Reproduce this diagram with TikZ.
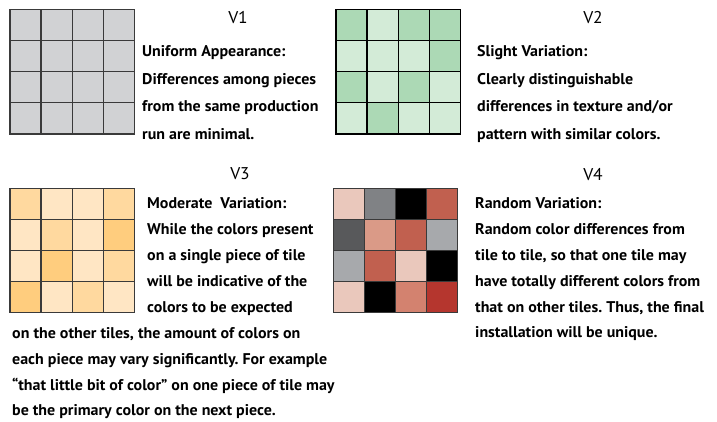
\documentclass[tikz,border=0pt]{standalone}
\usepackage{fontspec}
\setmainfont{PT Sans}[FakeStretch=1.03]
\frenchspacing
\definecolor{gA}{HTML}{D1D2D4}
\definecolor{gline}{HTML}{3A3A3A}
\definecolor{grD}{HTML}{ACD9B5}
\definecolor{grL}{HTML}{D3EBD7}
\definecolor{oL}{HTML}{FFE6C4}
\definecolor{oM}{HTML}{FFD99F}
\definecolor{oD}{HTML}{FFCD7E}
\definecolor{rPk}{HTML}{EAC8BC}
\definecolor{rGy}{HTML}{808285}
\definecolor{rBk}{HTML}{000000}
\definecolor{rRd}{HTML}{C1604F}
\definecolor{rDg}{HTML}{58595B}
\definecolor{rSa}{HTML}{DA9A87}
\definecolor{rLg}{HTML}{A7A9AC}
\definecolor{rS2}{HTML}{D3826F}
\definecolor{rBr}{HTML}{B5362E}
\newcommand\tilegrid[5]{%
  \foreach \c [count=\i from 0] in {#5} {%
    \pgfmathsetmacro\tcol{mod(\i,4)}%
    \pgfmathsetmacro\trow{int(\i/4)}%
    \filldraw[fill=\c, draw=#3, line width=#4] ({#1+\tcol*31.1},{#2+\trow*31.1}) rectangle ++(31.1,31.1);
  }%
}
\tikzset{
  txt/.style={anchor=base west, inner sep=0pt, font=\fontsize{15.5}{15.5}\selectfont\bfseries},
  vlab/.style={anchor=base, inner sep=0pt, font=\fontsize{17}{17}\selectfont}
}
\begin{document}
\begin{tikzpicture}[x=1pt,y=-1pt]
\useasboundingbox[fill=white] (0,0) rectangle (717,421);
% grids
\tilegrid{10}{9.5}{gline}{1.3pt}{gA,gA,gA,gA,gA,gA,gA,gA,gA,gA,gA,gA,gA,gA,gA,gA}
\tilegrid{336}{9.5}{black}{1.3pt}{grD,grL,grD,grD,grL,grL,grL,grD,grD,grL,grD,grL,grL,grD,grL,grL}
\tilegrid{10}{188.3}{gline}{1.3pt}{oM,oL,oL,oM,oL,oM,oL,oD,oL,oD,oL,oM,oD,oL,oM,oL}
\tilegrid{333.3}{188.3}{gline}{1pt}{rPk,rGy,rBk,rRd,rDg,rSa,rRd,rLg,rLg,rRd,rPk,rBk,rPk,rBk,rS2,rBr}
% V1
\node[vlab] (t1) at (238,23) {V1};
\node[txt] (a1) at (142,56) {Uniform Appearance:};
\node[txt] (a2) at (142,84) {Differences among pieces};
\node[txt] (a3) at (142,111.5) {from the same production};
\node[txt] (a4) at (142,139) {run are minimal.};
% V2
\node[vlab] (t2) at (593,23) {V2};
\node[txt] (b1) at (477,56) {Slight Variation:};
\node[txt] (b2) at (477,84) {Clearly distinguishable};
\node[txt] (b3) at (477,111.5) {differences in texture and/or};
\node[txt] (b4) at (477,139) {pattern with similar colors.};
% V3
\node[vlab] (t3) at (240,179) {V3};
\node[txt] (c1) at (147,208) {Moderate\ \ Variation:};
\node[txt] (c2) at (147,234) {While the colors present};
\node[txt] (c3) at (147,260) {on a single piece of tile};
\node[txt] (c4) at (147,286) {will be indicative of the};
\node[txt] (c5) at (147,312) {colors to be expected};
\node[txt] (c6) at (12,338) {on the other tiles, the amount of colors on};
\node[txt] (c7) at (12,364) {each piece may vary significantly. For example};
\node[txt] (c8) at (12,390) {“that little bit of color” on one piece of tile may};
\node[txt] (c9) at (12,415) {be the primary color on the next piece.};
% V4
\node[vlab] (t4) at (593,180) {V4};
\node[txt] (d1) at (475,208) {Random Variation:};
\node[txt] (d2) at (475,234) {Random color differences from};
\node[txt] (d3) at (475,260) {tile to tile, so that one tile may};
\node[txt] (d4) at (475,286) {have totally different colors from};
\node[txt] (d5) at (475,312) {that on other tiles. Thus, the final};
\node[txt] (d6) at (475,337) {installation will be unique.};
\end{tikzpicture}
\end{document}
